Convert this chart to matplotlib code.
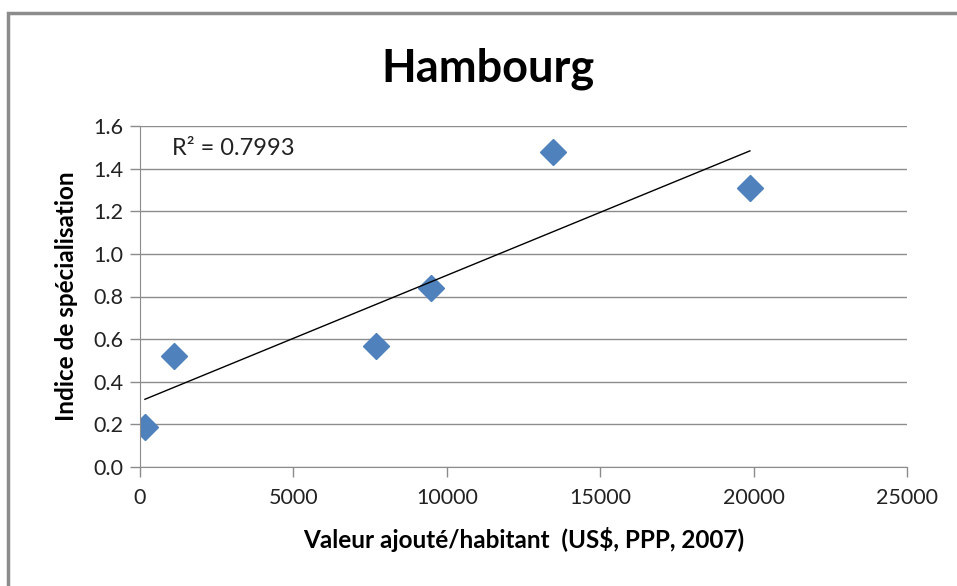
import numpy as np
import matplotlib.pyplot as plt
from matplotlib.patches import Rectangle

plt.rcParams['font.family'] = ['Lato', 'DejaVu Sans']

# donnees
valeur_ajoutee = [160, 1100, 7700, 9480, 13460, 19880]
indice = [0.19, 0.52, 0.57, 0.84, 1.48, 1.31]
x_ticks = [0, 5000, 10000, 15000, 20000, 25000]
y_ticks = [0.0, 0.2, 0.4, 0.6, 0.8, 1.0, 1.2, 1.4, 1.6]
r2_label = "R² = 0.7993"

fig = plt.figure(figsize=(9.57, 5.86), dpi=100)
ax = fig.add_axes([140/957, 1 - 467/586, 767/957, 341/586])

# cadre gris du graphique
fig.patches.append(Rectangle((8/957, -0.1), 1.2, 1 - 13/586 + 0.1,
                             transform=fig.transFigure, fill=False,
                             edgecolor="#8c8c8c", linewidth=2.5))

ax.set_axisbelow(True)
ax.grid(axis="y", color="#8c8c8c", linewidth=1)

ax.plot(valeur_ajoutee, indice, linestyle="none", marker="D",
        markersize=13, color="#4f81bd", markeredgecolor="#4f81bd")

# droite de tendance lineaire
a, b = np.polyfit(valeur_ajoutee, indice, 1)
xs = np.array([min(valeur_ajoutee), max(valeur_ajoutee)])
ax.plot(xs, a * xs + b, color="black", linewidth=1)

ax.text(0.042, 0.935, r2_label, transform=ax.transAxes, fontsize=17,
        va="center", ha="left", color="#222222")

ax.set_xlim(0, 25000)
ax.set_ylim(0, 1.6)
ax.set_xticks(x_ticks)
ax.set_yticks(y_ticks)
ax.set_yticklabels([f"{v:.1f}" for v in y_ticks])

for side in ["top", "right"]:
    ax.spines[side].set_visible(False)
ax.spines["left"].set_color("#8c8c8c")
ax.spines["bottom"].set_color("#8c8c8c")
ax.tick_params(axis="both", colors="#8c8c8c", labelcolor="#222222",
               labelsize=15.5, length=7, width=1)
ax.tick_params(axis="x", pad=8)
ax.tick_params(axis="y", pad=5)

ax.set_xlabel("Valeur ajouté/habitant  (US$, PPP, 2007)", fontsize=17.5,
              fontweight="bold", labelpad=14)
ax.set_ylabel("Indice de spécialisation", fontsize=17.5, fontweight="bold",
              labelpad=11)
fig.suptitle("Hambourg", x=488/957, y=1 - 69/586, va="center",
             fontsize=32.5, fontweight="bold")

fig.savefig("out.png", dpi=100)
